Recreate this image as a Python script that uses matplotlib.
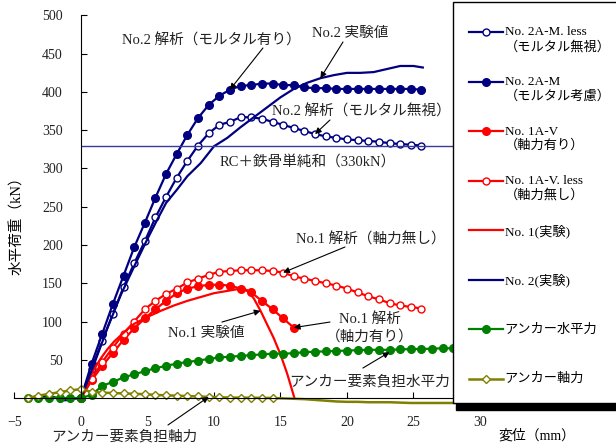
import matplotlib
matplotlib.use("Agg")
import matplotlib.pyplot as plt
from matplotlib.patches import Rectangle
from matplotlib.legend_handler import HandlerLine2D

plt.rcParams['font.family'] = ['Liberation Serif', 'Noto Sans CJK JP']
plt.rcParams['axes.unicode_minus'] = True

# analysis step (mm)
x_an = [0.0, 0.8, 1.6, 2.4, 3.2, 4.0, 4.8, 5.6, 6.4, 7.2, 8.0, 8.8, 9.6, 10.4,
        11.2, 12.0, 12.8, 13.6, 14.4, 15.2, 16.0, 16.8, 17.6, 18.4, 19.2, 20.0,
        20.8, 21.6, 22.4, 23.2, 24.0, 24.8, 25.6]

# No.2A-M.less (mortar ignored)
y_2am_less = [0, 38, 75, 110, 145, 176, 205, 236, 263, 288, 310, 330, 346, 357,
              361, 367, 367, 365, 361, 357, 353, 349, 345, 342, 340, 338, 337,
              336, 335, 333, 332, 331, 330]
# No.2A-M (mortar considered)
y_2am = [0, 45, 84, 123, 160, 197, 229, 262, 293, 319, 344, 366, 383, 395, 403,
         408, 409, 411, 411, 409, 409, 406, 405, 405, 404, 404, 404, 404, 404,
         404, 404, 404, 403]
# No.1A-V (with axial force), up to 16 mm
y_1av = [0, 23, 42, 59, 76, 91, 104, 116, 127, 137, 143, 146, 148, 148, 147,
         143, 138, 127, 116, 104, 92]
# No.1A-V.less (no axial force)
y_1av_less = [0, 25, 47, 66, 84, 100, 116, 127, 136, 143, 151, 156, 161, 165,
              166, 167, 167, 167, 166, 164, 159, 156, 153, 150, 147, 143, 138,
              133, 129, 124, 121, 119, 117]

# test results
x_exp1 = [0, 0.5, 1, 1.5, 2, 2.5, 3, 3.5, 4, 5, 6, 7, 8, 9, 10, 11, 12, 12.5,
          13, 13.5, 14, 14.5, 15, 15.5, 16.05]
y_exp1 = [0, 20, 38, 52, 64, 74, 82, 90, 97, 106, 114, 121, 127, 132, 137, 140,
          143, 141, 130, 114, 96, 78, 57, 32, 0]
x_exp2 = [-3.0, -2.0, -1.2, -0.5, 0, 1, 2, 3, 4, 5, 5.7, 6.4, 7.2, 8, 9, 10,
          11, 12, 13, 14, 15, 16, 17, 18, 19, 20, 21, 22, 23, 24, 25, 25.7]
y_exp2 = [3, 1, -3, -1, 0, 45, 92, 135, 172, 208, 232, 255, 272, 290, 307, 329,
          340, 354, 367, 380, 393, 404, 412, 418, 422, 425, 425, 426, 430, 434,
          434, 432]

# anchor forces
x_anc = [-4.0, -3.2, -2.4, -1.6, -0.8, 0.0, 0.8, 1.6, 2.4, 3.2, 4.0, 4.8, 5.6,
         6.4, 7.2, 8.0, 8.8, 9.6, 10.4, 11.2, 12.0, 12.8, 13.6, 14.4, 15.2,
         16.0, 16.8, 17.6, 18.4, 19.2, 20.0, 20.8, 21.6, 22.4, 23.2, 24.0, 24.8,
         25.6, 26.4, 27.2, 28.0]
y_anc_h = [0, 0, 0, 0, 0, 0, 4, 16, 21, 27, 31, 35, 39, 42, 45, 47, 49, 51, 53,
           54, 55, 56, 57, 58, 58, 58.5, 60, 60.5, 61, 61.5, 62, 62.5, 63, 63,
           63, 63.5, 64, 64, 64.5, 65, 65]
y_anc_v = [0, 3, 5.5, 7.5, 10, 11.5, 8, 7, 6.5, 6, 5.5, 5, 4, 3.5, 3, 2.5, 2,
           1.5, 1, 0.5, 0.5, 0.3, 0.2, 0, -0.5, -1, -1.5, -2.5, -3.5, -4.5, -5,
           -5, -5.5, -5.5, -5.5, -6, -6.5, -6.5, -6.5, -6.5, -6.5]

rc_sum = 330  # RC + steel simple sum (kN)

navy = '#000080'
red = '#ff0000'
green = '#008000'
olive = '#808000'

fig = plt.figure(figsize=(6.16, 4.45), dpi=100)
ax = fig.add_axes([0.0235, 0.0712, 0.7557, 0.894])

l1, = ax.plot(x_an, y_2am_less, color=navy, lw=1.6, marker='o', ms=5,
              mfc='white', mec=navy, mew=1.0)
l2, = ax.plot(x_an, y_2am, color=navy, lw=1.6, marker='o', ms=5.5,
              mfc=navy, mec=navy)
l3, = ax.plot(x_an[:len(y_1av)], y_1av, color=red, lw=1.6, marker='o', ms=5.5,
              mfc=red, mec=red)
l4, = ax.plot(x_an, y_1av_less, color=red, lw=1.6, marker='o', ms=5,
              mfc='white', mec=red, mew=1.0)
l5, = ax.plot(x_exp1, y_exp1, color=red, lw=1.6)
l6, = ax.plot(x_exp2, y_exp2, color=navy, lw=1.6)
l7, = ax.plot(x_anc, y_anc_h, color=green, lw=1.6, marker='o', ms=5.5,
              mfc=green, mec=green)
l8, = ax.plot(x_anc, y_anc_v, color=olive, lw=1.8, marker='D', ms=4,
              mfc='white', mec=olive, mew=1.0, markevery=slice(0, 24))

ax.hlines(rc_sum, 0, 30, color='#3a3a9a', lw=1.0)

ax.set_xlim(-5, 30)
ax.set_ylim(-20, 500)
ax.set_xticks(range(-5, 31, 5))
ax.set_yticks(range(0, 501, 50))
ax.spines['top'].set_visible(False)
ax.spines['right'].set_visible(False)
ax.spines['left'].set_position(('data', 0))
ax.spines['left'].set_bounds(0, 500)
ax.spines['bottom'].set_position(('data', 0))
ax.tick_params(direction='in', length=4, width=0.8, labelsize=10, pad=13,
               colors='black', labelcolor='#222222')
ax.patch.set_alpha(0)

ax.set_ylabel('水平荷重（kN）', fontsize=10.5)
ax.yaxis.set_label_coords(0.02, 0.48)
ax.set_xlabel('変位（mm）', fontsize=10)
ax.xaxis.set_label_coords(1.122, -0.04)

# callouts: text, text centre, arrow start, arrow tip
notes = [
    ('No.2 解析（モルタル有り）', (9.77, 466.7), (13.68, 457.5), (x_an[14], y_2am[14])),
    ('No.2 実験値', (20.26, 477), (19.7, 465.4), (x_exp2[23], y_exp2[23])),
    ('No.2 解析（モルタル無視）', (21.05, 373.9), (18.72, 363.4), (x_an[22], y_2am_less[22])),
    ('RC＋鉄骨単純和（330kN）', (17.03, 308.5), None, None),
    ('No.1 解析（軸力無し）', (21.8, 207.8), (19.85, 197.4), (x_an[19], y_1av_less[19])),
    ('No.1 実験値', (9.44, 85), (10.6, 99.3), (x_exp1[19], y_exp1[19])),
    ('No.1 解析\n（軸力有り）', (21.7, 91.5), (18.72, 99.3), (x_an[20], y_1av[20])),
    ('アンカー要素負担水平力', (21.7, 20.9), (21.2, 39.2), (x_anc[34], y_anc_h[34] - 3)),
    ('アンカー要素負担軸力', (3.23, -51), (6.54, -35.3), (x_anc[17], y_anc_v[17])),
]
for text, pos, start, tip in notes:
    ax.text(pos[0], pos[1], text, ha='center', va='center', fontsize=10.5,
            color='#222222', linespacing=1.3)
    if start is not None:
        ax.annotate('', xy=tip, xytext=start,
                    arrowprops=dict(arrowstyle='-|>', color='black', lw=0.8,
                                    shrinkA=0, shrinkB=0, mutation_scale=9))


# legend sample lines sit level with the first line of each label
def lift_sample(handle, orig):
    handle.update_from(orig)
    handle.set_ydata([y + 4.0 for y in handle.get_ydata()])


labels = ['No. 2A-M. less\n（モルタル無視）', 'No. 2A-M\n（モルタル考慮）',
          'No. 1A-V\n（軸力有り）', 'No. 1A-V. less\n（軸力無し）',
          'No. 1(実験)', 'No. 2(実験)', 'アンカー水平力', 'アンカー軸力']
handles = [l1, l2, l3, l4, l5, l6, l7, l8]
leg = fig.legend(handles, labels, loc='upper left',
                 bbox_to_anchor=(469 / 616, 1 - 26.5 / 445), borderaxespad=0,
                 frameon=False, fontsize=9.5, handlelength=2.58,
                 handletextpad=0.12, borderpad=0, handleheight=4.0,
                 labelspacing=0.907,
                 handler_map={h: HandlerLine2D(update_func=lift_sample)
                              for h in handles})
for col in leg.get_children()[0].get_children()[1].get_children():
    for item in col.get_children():
        item.align = 'top'

# legend box with its drop shadow
fig.add_artist(Rectangle((456 / 616, 1 - 410 / 445), 0.3, 7.5 / 445,
                         transform=fig.transFigure, color='black', zorder=4.8))
fig.add_artist(Rectangle((452.5 / 616, 1 - 403 / 445), 0.3, 401.5 / 445,
                         transform=fig.transFigure, facecolor='white',
                         edgecolor='black', lw=1.0, zorder=4.9))

fig.savefig('out.png', dpi=100)
